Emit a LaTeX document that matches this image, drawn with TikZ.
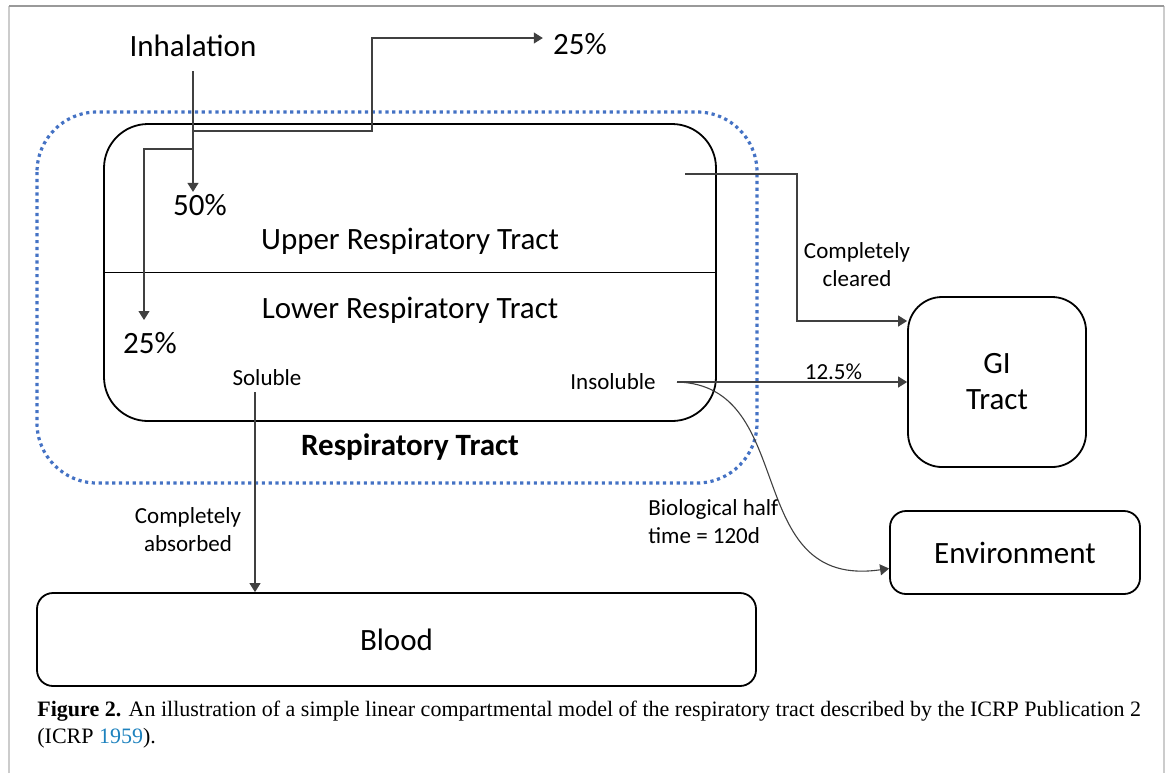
\documentclass[tikz,border=0pt]{standalone}
\usepackage{fontspec}
\setmainfont{Carlito}
\newfontfamily\capfont{Liberation Serif}
\usetikzlibrary{arrows.meta,positioning}
\definecolor{zoneBlue}{RGB}{68,114,196}
\definecolor{refBlue}{RGB}{30,130,190}
\colorlet{frameGray}{black!40}
\colorlet{wireGray}{black!75}

\begin{document}
\begin{tikzpicture}[x=0.5pt,y=-0.5pt,
    comp/.style={draw,rounded corners=#1,line width=0.9pt,align=center,
      font=\fontsize{15.5}{18}\selectfont,inner sep=0pt},
    lbl/.style={font=\fontsize{15.5}{18}\selectfont,inner sep=1pt},
    note/.style={font=\fontsize{11.5}{14}\selectfont,align=center,inner sep=1pt,text=black},
    flow/.style={-{Triangle[length=4.5pt,width=5.5pt]},line width=0.55pt,wireGray}
  ]
    \useasboundingbox (0,0) rectangle (1171,773);
    % page frame
    \draw[black!20,line width=0.8pt] (9,773) -- (9,6) (1164,6) -- (1164,773);
    \draw[frameGray,line width=0.8pt] (9,6) -- (1164,6);

    % respiratory tract zone
    \draw[zoneBlue,line width=1.6pt,dash pattern=on 1.6pt off 1.8pt,rounded corners=30pt]
      (37,112) rectangle (757,483);

    \node[comp=22pt,minimum width=306pt,minimum height=148.5pt] (resp) at (410,272.5) {};
    \draw[line width=0.6pt] (resp.west) -- (resp.east);
    \node[lbl] (upper) at (410,241) {Upper Respiratory Tract};
    \node[lbl] (lower) at (410,310) {Lower Respiratory Tract};
    \node[lbl,font=\fontsize{15.5}{18}\selectfont\bfseries] (rtname) at (410,447) {Respiratory Tract};

    \node[comp=17pt,minimum width=89pt,minimum height=85pt] (gi) at (997,382) {GI\\Tract};
    \node[comp=8pt,minimum width=125pt,minimum height=41.5pt] (env) at (1015,552.5) {Environment};
    \node[comp=8pt,minimum width=359.5pt,minimum height=46.5pt] (blood) at (396.5,639.5) {Blood};

    % inhalation split
    \node[lbl] (inh) at (193,46) {Inhalation};
    \node[lbl] (up50) at (200,205) {50\%};
    \node[lbl] (out25) at (580,44) {25\%};
    \node[lbl] (low25) at (150,343) {25\%};
    \draw[flow,shorten <=6pt] (inh.south) -- (inh.south |- up50.north);
    \coordinate (split1) at (193,131);
    \coordinate (rise) at (372,38);
    \draw[flow,shorten >=4pt] (split1) -| (rise) -- (rise -| out25.west);
    \coordinate (split2) at (193,149);
    \coordinate (drop) at (144,320);
    \draw[flow] (split2) -| (drop);

    % clearance
    \coordinate (clr) at (685,174);
    \coordinate (clrdown) at (797,321);
    \draw[flow] (clr) -| (clrdown) -- (clrdown -| gi.west);
    \node[note] (cleared) at (857,265) {Completely\\cleared};

    \node[note] (insol) at (613,382) {Insoluble};
    \coordinate (insout) at (677,382);
    \draw[flow] (insout) -- (insout -| gi.west) node[note,pos=0.68,above=0pt] {12.5\%};
    \draw[flow] (insout) .. controls (800,385) and (740,590) .. ([yshift=-8pt]env.west);
    \node[note,align=left,anchor=west] (halftime) at (646,522) {Biological half\\time = 120d};

    \node[note] (sol) at (267,378) {Soluble};
    \coordinate (solout) at (255,392);
    \draw[flow] (solout) -- (solout |- blood.north);
    \node[note] (absorbed) at (188,530) {Completely\\absorbed};

    \node[anchor=north west,align=left,inner sep=0pt,
      font=\capfont\fontsize{11}{13.5}\selectfont] (caption) at (37,701)
      {\textbf{Figure 2.} An illustration of a simple linear compartmental model of the respiratory tract described by the ICRP Publication 2\\
       (ICRP {\color{refBlue}1959}).};
  \end{tikzpicture}
\end{document}
